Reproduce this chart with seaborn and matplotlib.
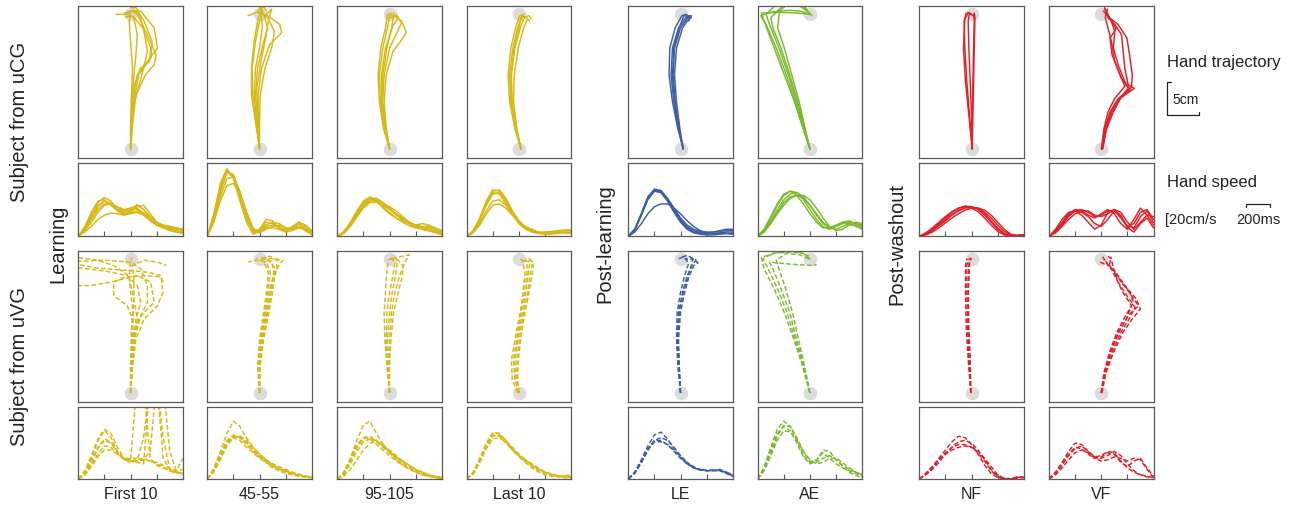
import numpy as np
import pandas as pd
import matplotlib
matplotlib.use("Agg")
import matplotlib.pyplot as plt
import seaborn as sns
from matplotlib.lines import Line2D

sns.set_theme(style="white")
plt.rcParams["font.family"] = ["Liberation Sans", "DejaVu Sans"]

# ---------------- labels / categories ----------------
conditions = ["First 10", "45-55", "95-105", "Last 10", "LE", "AE", "NF", "VF"]
phase_labels = ["Learning", "Post-learning", "Post-washout"]
subject_labels = ["Subject from uCG", "Subject from uVG"]
col_colors = ["#d6b916", "#d6b916", "#d6b916", "#d6b916",
              "#3d5da6", "#7bb92f", "#e2202a", "#e2202a"]

# start / target positions (cm)
start_pos = [0.0, 0.0]
target_pos = [0.0, 20.0]

# time grid for hand speed (ms)
speed_t = [0, 50, 100, 150, 200, 250, 300, 350, 400, 450, 500, 550, 600, 650, 700, 750, 800]

# ---------------- hand trajectories (cm), flat x,y pairs ----------------
traj_ucg_first10 = [
    [0,0, 0.1,3, 0.3,7, 1.0,11, 2.5,13, 4.0,15, 3.5,18, 1.5,20.5, 0,20.5, -0.5,20],
    [0,0, 0.2,3, 0.5,7, 1.2,11, 3.0,13.5, 3.2,16, 2.0,19, 0.8,21, 0,21],
    [0,0, 0.1,3, 0.2,7, 0.5,11, 0.8,14, 1.0,17, 0.5,19.5, -0.5,20, -2.2,20],
    [0,0, 0.3,4, 0.8,8, 2.2,11, 3.5,12.5, 3.8,14, 2.5,17, 1.0,20, 0.2,20.5],
    [0,0, 0,3, 0.1,7, 0.3,12, 0,16, -0.2,19, 0,20.3],
    [0,0, 0.2,3, 0.6,7, 1.8,11.5, 2.5,14.5, 2.0,17.5, 1.3,20, 0.5,20.6, -1.0,20.2],
    [0,0, 0.1,4, 0.4,9, 1.5,12, 2.8,13, 3.0,15, 1.8,18, 0.3,19.8, -0.8,19.6],
]
traj_ucg_45_55 = [
    [0,0, -0.5,4, -1.0,8, -1.1,12, -0.6,16, 0,19, 0.5,20.5, 0,21],
    [0,0, -0.3,4, -0.6,8, -0.3,12, 0.5,15.5, 1.2,18, 0.6,20, -0.3,20.5],
    [0,0, -0.2,4, -0.2,8, 0.3,12, 1.5,15.5, 3.3,17.3, 3.0,18.5, 1.2,19.8, -0.5,20.3, -1.7,19.8],
    [0,0, -0.4,4, -0.8,8, -0.6,12, 0,15, 0.4,18, 0.2,21, -0.2,20.6],
    [0,0, 0,4, 0.1,8, 0.8,12, 1.8,15, 2.2,17.5, 1.2,19.5, 0.3,20.3],
    [0,0, -0.6,4, -1.2,8, -1.2,12, -0.8,16, -0.2,19.5, 0.6,21.3, 1.0,20.5],
    [0,0, -0.3,5, -0.4,9, 0.2,13, 0.9,16.5, 1.4,19.5, 1.8,20.8, 1.0,20.0],
]
traj_ucg_95_105 = [
    [0,0, -0.8,3, -1.4,7, -1.5,11, -1.0,15, -0.3,18, 0,19.8],
    [0,0, -0.6,3, -1.1,7, -1.0,11, -0.4,15, 0.3,18, 0.6,19.7, 0.2,19.5],
    [0,0, -0.5,3, -0.8,7, -0.5,11, 0.5,14.5, 2.0,16.5, 2.5,17.3, 1.8,19, 0.8,19.8, 0,19.8],
    [0,0, -0.7,3, -1.2,7, -1.2,11, -0.6,15, 0.5,18.3, 1.3,19.5, 1.0,20.0],
    [0,0, -0.5,3, -1.0,7, -0.8,11, 0,15, 1.2,17.5, 1.8,18.8, 0.5,20.2],
    [0,0, -0.9,3, -1.5,7, -1.7,11, -1.3,15, -0.6,18, -0.3,20, 0.3,20.1],
]
traj_ucg_last10 = [
    [0.3,0, -0.5,3, -1.2,7, -1.4,11, -0.9,15, -0.2,18, 0.3,19.5, 1.5,19.8, 1.8,19.3],
    [0.3,0, -0.4,3, -1.0,7, -1.1,11, -0.6,15, 0.2,18, 0.8,19.6, 1.2,19.4],
    [0.3,0, -0.6,3, -1.4,7, -1.6,11, -1.2,15, -0.5,18, 0.1,19.8, 0.8,20.0],
    [0.3,0, -0.3,3, -0.8,7, -0.7,11, -0.1,15, 0.7,18, 1.3,19.3, 1.6,19.0],
    [0.3,0, -0.5,3, -1.1,7, -1.2,11, -0.7,15, 0,18, 0.4,19.8, 0.9,19.6],
]
traj_ucg_le = [
    [0.4,0, -0.3,3, -1.0,7, -1.4,11, -1.2,15, -0.3,18, 0.8,19.5, 1.6,19.8, 1.2,19.0],
    [0.4,0, -0.2,3, -0.8,7, -1.1,11, -0.9,15, 0,18, 1.0,19.4, 1.5,19.6],
    [0.4,0, -0.4,3, -1.2,7, -1.7,11, -1.6,15, -0.8,18, 0.2,19.8, 0.8,20.0, 1.6,19.5],
    [0.4,0, -0.1,3, -0.6,7, -0.9,11, -0.6,15, 0.3,18, 1.2,19.3, 1.4,19.8],
    [0.4,0, -0.3,3, -0.9,7, -1.2,11, -1.0,15, -0.2,18, 0.5,19.8, 1.3,19.7],
]
traj_ucg_ae = [
    [0,0, -1,3, -2.2,7, -3.5,11, -5.0,15, -6.5,18.5, -7.3,19.8, -5.5,20.4, -3,20.6, -1.5,20.5, 0,20],
    [0,0, -0.8,3, -1.8,7, -3.0,11, -4.3,15, -5.5,18, -5.8,19.5, -4,21.3, -2,22, -1,21.5, 0,20],
    [0,0, -0.9,3, -2.0,7, -3.2,11, -4.6,15, -6.0,18.5, -6.5,20.0, -5,21.5, -2.5,22, -0.5,20.5],
    [0,0, -0.7,3, -1.6,7, -2.7,11, -3.8,15, -4.8,18, -4.5,20.5, -3,21.8, -1,21.2, 0.3,19.8],
    [0,0, -1.0,3, -2.3,7, -3.8,11, -5.3,15, -6.8,19, -7.2,20.2, -4.5,20.3, -2,20.2, 0,20],
]
traj_ucg_nf = [
    [0.1,0, 0,5, -0.2,10, -0.4,15, -0.5,19, -0.3,20.2, 0,20],
    [0.1,0, -0.3,5, -0.7,10, -1.0,15, -1.1,19, -0.8,20.2],
    [0.1,0, 0.1,5, 0.2,10, 0.3,15, 0.4,19, 0.3,20],
    [0.1,0, -0.4,5, -0.9,10, -1.2,15, -1.0,19.3, -0.5,20.3, 0.2,19.8],
    [0.1,0, 0.2,5, 0.3,10, 0.4,15, 0.5,19.5, 0.4,20.2],
]
traj_ucg_vf = [
    [0.1,0, 0.6,3, 1.5,5.5, 2.8,7.5, 4.9,9.0, 4.0,9.5, 3.5,12, 3.2,15, 3.0,17, 2.0,18.5, 1.0,19.5, 0.5,21],
    [0.1,0, 0.5,3, 1.3,5.5, 2.5,7.5, 4.3,8.8, 3.5,10, 2.5,12.5, 1.8,15, 2.0,17.5, 1.5,19, 0.5,20.8],
    [0.2,0, 0.8,3, 1.8,5.5, 3.0,7.8, 4.5,9.2, 4.6,11, 4.2,14, 3.8,16.5, 2.5,18.5, 1.2,19.5, 0.8,20.5],
    [0,0, 0.4,3, 1.0,5.5, 2.0,7.5, 3.5,9.3, 2.6,11.5, 1.6,14, 1.3,16.5, 2.2,17.8, 1.5,19.2, 0.3,20.5],
    [0.2,0, 0.7,3, 1.6,5.5, 2.8,7.6, 4.0,9.0, 3.0,10.5, 2.0,13, 1.5,16, 1.0,18, 0.6,19.5, 0.9,20.8],
]

traj_uvg_first10 = [
    [0,0, 0.2,4, 0.4,8, 0.8,11, 1.5,13.5, 1.0,16, -0.5,17.5, -4,18.2, -8,18.7],
    [0,0, 0.3,4, 0.6,8, 1.5,11.5, 2.5,13.5, 2.5,16, 1.5,18.5, 0,19.5, -4,19.8, -8,19.6],
    [0,0, 0.1,4, 0.2,8, 0.3,11, -0.5,13, -2.5,14.5, -2.5,16.5, -1.0,17.2, 2.0,17.5, 4.5,17.3, 5.0,16.2],
    [0,0, 0.2,4, 0.5,8, 1.2,11, 2.5,12.5, 3.5,13.5, 3.0,16.5, 1.0,17.5, -3,16.5, -6,16.0, -8,16.0],
    [0,0, 0.1,4, 0.3,8, 0.4,12, 0.0,15, -0.2,17.5, 0,19.5, 0.2,20.2],
    [0,0, 0.3,4, 0.8,8, 2.0,11, 4.0,13.0, 4.8,15, 4.5,17.5, 2.5,18.0, -1,18.3, -5,18.6, -8,19.2],
    [0,0, 0.2,4, 0.5,8, 1.0,11, 0.5,14, -0.3,17.5, -2.5,19, -5,19.8, -8,20.2],
    [0,0, 0.0,4, 0.1,9, 0.5,14, 0.5,17, 0.3,19, 2.0,19.8, 4.0,19.5, 5.3,19.0],
]
traj_uvg_45_55 = [
    [0,0, -0.2,4, 0.2,8, 0.8,12, 1.3,15.5, 1.6,18, 1.0,19.5, -0.5,19.8, -1.7,19.5],
    [0,0, 0,4, 0.4,8, 1.1,12, 1.7,15.5, 2.1,18, 1.8,19.5, 0.5,20],
    [0,0, -0.1,4, 0.3,8, 0.9,12, 1.5,15.5, 2.3,18, 3.2,19.5, 3.5,19.8, 2.0,20.0, 0.3,20.2],
    [0,0, 0.1,4, 0.6,8, 1.4,12, 2.0,15.5, 2.3,18.5, 1.5,19.8, 0.2,20],
    [0,0, -0.3,4, 0.0,8, 0.6,12, 1.1,15.5, 1.3,18, 0.6,19.6, -0.5,20.1],
    [0,0, 0,4, 0.5,8, 1.2,12, 1.8,15.5, 2.5,18.3, 2.6,19.8, 1.5,20.4, 0.5,20.0],
]
traj_uvg_95_105 = [
    [0,0, -0.3,4, -0.5,8, -0.4,12, 0,15, 0.5,17.5, 0.8,19.5, 0.2,20],
    [0,0, -0.1,4, 0,8, 0.3,12, 0.8,15, 1.5,17.5, 2.3,19.5, 2.9,20.6, 1.5,20.3, 0,20],
    [0,0, -0.4,4, -0.7,8, -0.8,12, -0.6,15, -0.4,18, -0.2,19.8, 0.5,20.2],
    [0,0, 0,4, 0.2,8, 0.6,12, 1.3,15, 1.9,17.5, 2.0,19.0, 1.2,19.8, 0.3,19.9],
    [0,0, -0.2,4, -0.3,8, 0,12, 0.4,15, 0.9,17.5, 1.2,19.8, 0.5,20.5],
]
traj_uvg_last10 = [
    [0,0, -0.5,2, -0.6,5, 0,9, 0.5,12, 1.0,15, 1.4,18, 1.6,19.5, 0.5,19.8],
    [0,0, -0.2,2, -0.1,5, 0.4,9, 0.9,12, 1.5,15, 2.0,18, 2.2,19.5, 1.0,20],
    [-0.2,0, -1.0,2, -1.1,5, -0.4,9, 0.2,12, 0.6,15, 0.9,18, 0.5,19.8, 0,20],
    [0,0, -0.3,2, -0.3,5, 0.2,9, 0.7,12, 1.3,15, 1.7,18, 2.0,19.5, 1.4,20.1],
    [0,0, -0.6,2, -0.8,5, -0.2,9, 0.3,12, 0.8,15, 1.2,18, 1.2,19.6, 0.2,19.9],
]
traj_uvg_le = [
    [0,0, -0.3,4, -0.5,8, -0.3,12, 0.3,15, 1.0,17.5, 1.8,19.2, 2.3,19.8, 1.0,20.5, 0,20.2],
    [0,0, -0.2,4, -0.3,8, 0,12, 0.6,15, 1.3,17.5, 2.0,19, 2.6,19.4, 1.5,20.2],
    [0,0, -0.4,4, -0.6,8, -0.5,12, 0,15, 0.6,17.5, 1.2,19.3, 0.5,20.3, -0.3,20],
    [0,0, -0.2,4, -0.4,8, -0.2,12, 0.4,15, 1.1,17.5, 1.6,19.0, 1.8,19.9, 0.6,20.0],
]
traj_uvg_ae = [
    [0,0, -1.0,4, -2.2,8, -3.4,12, -4.8,15.5, -6.2,18.5, -7.0,20, -5.5,20.8, -3,21, -1,20.8, 0.2,19.8],
    [0,0, -0.9,4, -2.0,8, -3.0,12, -4.3,15.5, -5.5,18.5, -6.0,19.5, -3,19.2, 0,19.0, 1.0,19.1],
    [0,0, -1.1,4, -2.4,8, -3.8,12, -5.3,15.5, -6.8,18.5, -7.2,20.2, -5,20.9, -2,21.2, 0,20.3],
    [0,0, -0.8,4, -1.7,8, -2.6,12, -3.6,15.5, -4.6,18.5, -5.0,19.8, -3.5,20.8, -1.5,20.6, 0,19.9],
]
traj_uvg_nf = [
    [-0.1,0, -0.4,5, -0.6,10, -0.7,15, -0.7,19, -0.5,20],
    [-0.1,0, -0.2,5, -0.4,10, -0.5,15, -0.4,19, -0.2,20.2],
    [-0.1,0, -0.5,5, -0.8,10, -0.9,15, -0.9,19, -0.7,20.0],
    [-0.1,0, -0.3,5, -0.5,10, -0.5,15, -0.3,19.5, 0,20.1],
]
traj_uvg_vf = [
    [0,0, 0.5,3, 1.4,6, 2.6,9, 4.0,11.5, 5.5,13.0, 4.5,14.5, 3.0,16.5, 1.5,18.5, 0.5,19.8, 0.2,20.3],
    [0,0, 0.6,3, 1.6,6, 2.9,9, 4.3,11.3, 5.0,12.8, 3.8,14.5, 2.5,16.5, 1.8,18.5, 1.5,20, 1.0,20.4],
    [0,0, 0.4,3, 1.2,6, 2.3,9, 3.6,11.5, 4.8,13.5, 4.2,15, 2.8,17, 1.6,18.8, -0.2,19.5],
    [0.1,0, 0.7,3, 1.8,6, 3.2,9, 4.6,11.0, 5.8,12.5, 5.2,14, 3.5,16, 2.0,18, 0.8,19.4, 0.4,20],
    [0,0, 0.5,3, 1.3,6, 2.5,9, 3.8,11.2, 4.5,13, 3.2,15, 2.0,17.5, 1.2,19, 1.5,20.3],
]

# ---------------- hand speed (cm/s) on speed_t grid ----------------
speed_ucg_first10 = [
    [0, 12, 30, 48, 55, 50, 38, 32, 36, 45, 38, 25, 16, 12, 10, 8, 6],
    [0, 10, 26, 42, 50, 47, 40, 34, 38, 40, 33, 24, 18, 14, 12, 10, 9],
    [0, 8, 20, 34, 44, 46, 42, 38, 40, 38, 30, 22, 16, 12, 14, 12, 10],
    [0, 14, 34, 50, 52, 44, 36, 30, 34, 42, 44, 32, 20, 14, 10, 6, 4],
    [0, 6, 14, 24, 30, 33, 32, 30, 33, 36, 32, 24, 18, 15, 13, 12, 10],
    [0, 10, 24, 38, 46, 46, 40, 36, 40, 44, 38, 28, 20, 16, 14, 11, 8],
    [0, 12, 28, 44, 50, 46, 38, 32, 32, 34, 30, 24, 18, 12, 8, 6, 5],
]
speed_ucg_45_55 = [
    [0, 30, 70, 95, 85, 55, 25, 5, 8, 20, 18, 12, 10, 12, 18, 12, 4],
    [0, 25, 62, 90, 88, 62, 30, 8, 6, 14, 16, 14, 8, 10, 15, 10, 5],
    [0, 28, 66, 92, 84, 58, 28, 6, 10, 24, 22, 10, 6, 8, 12, 10, 3],
    [0, 20, 50, 72, 75, 60, 35, 12, 5, 10, 14, 16, 12, 10, 20, 15, 6],
    [0, 32, 75, 96, 82, 50, 20, 3, 6, 12, 12, 10, 8, 14, 20, 16, 8],
    [0, 22, 56, 82, 84, 64, 34, 10, 8, 16, 20, 18, 12, 10, 14, 8, 2],
]
speed_ucg_95_105 = [
    [0, 6, 18, 34, 48, 54, 50, 42, 34, 26, 20, 15, 12, 10, 8, 6, 3],
    [0, 5, 16, 30, 44, 52, 52, 46, 38, 30, 24, 20, 16, 14, 12, 10, 6],
    [0, 7, 20, 36, 50, 56, 50, 40, 32, 26, 22, 18, 16, 18, 16, 12, 8],
    [0, 4, 14, 28, 40, 48, 48, 44, 38, 32, 26, 20, 14, 10, 8, 5, 2],
    [0, 6, 18, 32, 46, 54, 54, 48, 40, 32, 24, 18, 12, 14, 14, 10, 4],
    [0, 5, 15, 28, 42, 50, 50, 46, 42, 36, 28, 20, 15, 12, 10, 8, 5],
]
speed_ucg_last10 = [
    [0, 8, 26, 50, 66, 64, 50, 32, 18, 10, 6, 5, 5, 5, 6, 6, 6],
    [0, 7, 22, 44, 60, 62, 50, 34, 22, 12, 8, 6, 5, 6, 7, 8, 8],
    [0, 6, 18, 36, 50, 52, 44, 32, 20, 12, 8, 5, 4, 4, 5, 5, 4],
    [0, 8, 24, 46, 62, 60, 46, 30, 20, 14, 10, 6, 3, 3, 4, 5, 5],
    [0, 5, 16, 32, 44, 46, 40, 30, 20, 12, 8, 6, 6, 7, 8, 9, 9],
    [0, 7, 24, 48, 64, 66, 54, 36, 22, 12, 6, 4, 3, 4, 6, 8, 9],
]
speed_ucg_le = [
    [0, 10, 32, 56, 66, 64, 52, 36, 22, 12, 6, 4, 5, 6, 7, 8, 8],
    [0, 10, 30, 54, 65, 63, 52, 38, 24, 14, 8, 5, 4, 4, 5, 6, 6],
    [0, 6, 18, 32, 42, 46, 46, 40, 32, 22, 14, 8, 5, 4, 4, 4, 3],
    [0, 10, 32, 55, 67, 65, 54, 40, 26, 16, 10, 7, 6, 6, 8, 10, 10],
    [0, 9, 30, 52, 64, 62, 50, 34, 20, 10, 5, 3, 2, 2, 3, 4, 4],
]
speed_ucg_ae = [
    [0, 10, 26, 44, 58, 64, 62, 52, 38, 24, 14, 10, 14, 20, 22, 18, 14],
    [0, 8, 22, 38, 52, 60, 62, 56, 44, 30, 18, 12, 14, 18, 20, 18, 16],
    [0, 6, 18, 32, 44, 54, 58, 58, 52, 40, 26, 14, 8, 10, 16, 16, 12],
    [0, 10, 28, 46, 60, 64, 58, 46, 32, 20, 12, 12, 16, 20, 18, 14, 10],
    [0, 7, 20, 34, 48, 56, 58, 54, 44, 32, 20, 12, 10, 14, 18, 20, 18],
]
speed_ucg_nf = [
    [0, 4, 10, 18, 26, 34, 40, 43, 42, 38, 30, 20, 10, 3, 0, 1, 2],
    [0, 3, 8, 15, 22, 30, 36, 40, 41, 40, 34, 26, 16, 7, 2, 1, 2],
    [0, 5, 12, 20, 28, 35, 40, 42, 40, 35, 26, 16, 7, 2, 1, 1, 2],
    [0, 2, 6, 12, 19, 26, 32, 37, 40, 40, 37, 30, 20, 10, 3, 1, 2],
    [0, 4, 9, 16, 24, 31, 37, 41, 42, 39, 32, 22, 12, 4, 1, 1, 2],
]
speed_ucg_vf = [
    [0, 8, 20, 32, 38, 36, 30, 26, 32, 38, 32, 18, 10, 24, 40, 30, 16],
    [0, 6, 16, 28, 36, 38, 34, 28, 30, 36, 36, 26, 14, 18, 34, 38, 24],
    [0, 10, 24, 34, 36, 30, 20, 10, 16, 34, 38, 28, 14, 12, 28, 36, 20],
    [0, 5, 14, 24, 32, 36, 36, 30, 28, 32, 38, 34, 20, 10, 20, 30, 28],
    [0, 7, 18, 30, 36, 34, 28, 18, 14, 24, 36, 30, 12, 6, 18, 26, 12],
]

speed_uvg_first10 = [
    [0, 10, 30, 55, 70, 60, 40, 28, 26, 28, 30, 26, 22, 18, 12, 8, 10],
    [0, 8, 24, 44, 56, 52, 38, 30, 28, 26, 60, 140, 140, 60, 14, 10, 8],
    [0, 6, 20, 36, 48, 46, 36, 28, 24, 26, 28, 40, 140, 140, 40, 12, 6],
    [0, 12, 34, 58, 72, 66, 46, 30, 26, 24, 22, 140, 140, 30, 14, 10, 14],
    [0, 6, 18, 32, 42, 42, 36, 30, 30, 30, 28, 26, 24, 20, 16, 12, 30],
    [0, 9, 26, 46, 58, 54, 40, 30, 28, 140, 140, 30, 20, 16, 12, 10, 8],
]
speed_uvg_45_55 = [
    [0, 16, 40, 66, 84, 76, 60, 46, 36, 28, 20, 14, 10, 7, 5, 3, 2],
    [0, 12, 32, 52, 62, 60, 52, 42, 34, 26, 20, 15, 11, 8, 6, 4, 3],
    [0, 14, 36, 56, 64, 60, 50, 40, 32, 26, 20, 16, 12, 8, 5, 3, 2],
    [0, 10, 28, 48, 60, 62, 56, 46, 36, 28, 22, 18, 14, 10, 7, 4, 3],
    [0, 14, 34, 54, 60, 56, 46, 38, 30, 24, 18, 14, 12, 9, 6, 4, 2],
    [0, 12, 30, 50, 62, 62, 54, 42, 32, 24, 16, 12, 8, 6, 4, 3, 2],
]
speed_uvg_95_105 = [
    [0, 8, 30, 56, 78, 84, 66, 50, 38, 28, 20, 14, 10, 6, 4, 2, 1],
    [0, 8, 26, 46, 60, 62, 56, 48, 40, 32, 24, 18, 12, 8, 5, 3, 2],
    [0, 6, 22, 40, 54, 58, 56, 48, 40, 32, 26, 20, 14, 10, 6, 4, 2],
    [0, 10, 30, 50, 60, 58, 50, 42, 34, 26, 20, 16, 12, 8, 5, 3, 2],
    [0, 4, 14, 28, 42, 52, 54, 50, 42, 34, 26, 20, 14, 10, 6, 4, 2],
    [0, 8, 26, 46, 58, 60, 54, 46, 38, 30, 22, 16, 10, 6, 4, 2, 1],
]
speed_uvg_last10 = [
    [0, 10, 30, 52, 68, 66, 54, 42, 32, 24, 18, 12, 8, 6, 4, 3, 4],
    [0, 8, 26, 46, 62, 64, 56, 44, 34, 26, 20, 14, 10, 7, 5, 4, 3],
    [0, 9, 28, 48, 64, 62, 52, 42, 34, 28, 22, 16, 10, 6, 4, 3, 2],
    [0, 7, 24, 44, 58, 60, 54, 46, 36, 28, 20, 14, 10, 7, 5, 5, 6],
    [0, 10, 28, 50, 66, 66, 56, 44, 34, 24, 16, 10, 6, 4, 3, 2, 2],
]
speed_uvg_le = [
    [0, 10, 28, 48, 64, 68, 58, 44, 32, 22, 16, 13, 12, 13, 12, 8, 4],
    [0, 8, 24, 42, 56, 60, 56, 46, 34, 24, 16, 13, 12, 12, 12, 10, 6],
    [0, 10, 26, 44, 56, 56, 50, 40, 30, 22, 16, 14, 13, 13, 13, 9, 4],
    [0, 9, 24, 42, 54, 54, 50, 42, 32, 24, 18, 14, 12, 12, 14, 10, 5],
]
speed_uvg_ae = [
    [0, 18, 46, 72, 84, 76, 56, 34, 24, 28, 38, 30, 22, 16, 12, 8, 4],
    [0, 14, 38, 62, 78, 76, 60, 40, 26, 24, 30, 34, 28, 20, 14, 10, 6],
    [0, 16, 42, 66, 76, 70, 52, 32, 22, 26, 42, 40, 28, 18, 10, 5, 2],
    [0, 12, 34, 56, 70, 68, 56, 40, 28, 22, 24, 30, 30, 24, 16, 10, 6],
]
speed_uvg_nf = [
    [0, 8, 18, 30, 42, 54, 62, 60, 50, 36, 20, 8, 2, 0, 0, 3, 2],
    [0, 6, 14, 24, 36, 46, 54, 56, 52, 42, 28, 14, 4, 0, 1, 3, 3],
    [0, 7, 16, 28, 38, 46, 50, 50, 46, 38, 26, 12, 3, 1, 0, 2, 3],
    [0, 8, 18, 28, 36, 42, 46, 48, 46, 40, 30, 18, 6, 1, 0, 1, 2],
]
speed_uvg_vf = [
    [0, 10, 24, 40, 52, 50, 40, 32, 34, 40, 38, 26, 16, 10, 6, 4, 2],
    [0, 8, 20, 34, 44, 48, 40, 32, 30, 34, 40, 34, 22, 12, 6, 3, 2],
    [0, 6, 16, 28, 38, 42, 38, 30, 26, 28, 32, 30, 26, 30, 28, 14, 2],
    [0, 9, 22, 36, 46, 44, 36, 30, 32, 38, 36, 24, 18, 26, 30, 16, 4],
]

traj_ucg = [traj_ucg_first10, traj_ucg_45_55, traj_ucg_95_105, traj_ucg_last10,
            traj_ucg_le, traj_ucg_ae, traj_ucg_nf, traj_ucg_vf]
traj_uvg = [traj_uvg_first10, traj_uvg_45_55, traj_uvg_95_105, traj_uvg_last10,
            traj_uvg_le, traj_uvg_ae, traj_uvg_nf, traj_uvg_vf]
speed_ucg = [speed_ucg_first10, speed_ucg_45_55, speed_ucg_95_105, speed_ucg_last10,
             speed_ucg_le, speed_ucg_ae, speed_ucg_nf, speed_ucg_vf]
speed_uvg = [speed_uvg_first10, speed_uvg_45_55, speed_uvg_95_105, speed_uvg_last10,
             speed_uvg_le, speed_uvg_ae, speed_uvg_nf, speed_uvg_vf]

# ---------------- layout (pixels) ----------------
W, H = 1304, 506
fig = plt.figure(figsize=(W / 100, H / 100), dpi=100)
fig.patch.set_facecolor("white")

col_left = [78.3, 207.3, 337.3, 466.7, 628.3, 757.7, 919.3, 1049.0]
col_w = 104.5
rows = [(7.3, 152.0), (164.0, 73.3), (251.7, 151.6), (408.3, 71.7)]  # (top, height)
frame_color = "#5a5a5a"


def make_ax(left, top, w, h):
    ax = fig.add_axes([left / W, (H - top - h) / H, w / W, h / H])
    for s in ax.spines.values():
        s.set_color(frame_color)
        s.set_linewidth(0.9)
        s.set_visible(True)
    ax.set_xlabel("")
    ax.set_ylabel("")
    return ax


def traj_frame(curves):
    recs = []
    for i, c in enumerate(curves):
        for k in range(0, len(c), 2):
            recs.append((i, k // 2, c[k], c[k + 1]))
    return pd.DataFrame(recs, columns=["curve", "order", "x", "y"])


def speed_frame(curves):
    recs = []
    for i, c in enumerate(curves):
        for t, v in zip(speed_t, c):
            recs.append((i, t, v))
    return pd.DataFrame(recs, columns=["curve", "t", "v"])


solid = "-"
dashed = (0, (3.2, 1.6))

for j in range(8):
    color = col_colors[j]
    for r, (tcurves, scurves, ls) in enumerate([(traj_ucg[j], speed_ucg[j], solid),
                                                  (traj_uvg[j], speed_uvg[j], dashed)]):
        # trajectory
        top, h = rows[2 * r]
        ax = make_ax(col_left[j], top, col_w, h)
        ax.scatter([start_pos[0], target_pos[0]], [start_pos[1], target_pos[1]],
                   s=95, color="#dcdcdc", linewidths=0, zorder=1)
        sns.lineplot(data=traj_frame(tcurves), x="x", y="y", units="curve",
                     estimator=None, sort=False, color=color, linewidth=1.05,
                     linestyle=ls, ax=ax, legend=False, zorder=2)
        ax.set_xlim(-7.75, 7.75)
        ax.set_ylim(-1.4, 21.2)
        ax.set_xticks([])
        ax.set_yticks([])
        ax.set_xlabel("")
        ax.set_ylabel("")
        # speed
        top, h = rows[2 * r + 1]
        ax = make_ax(col_left[j], top, col_w, h)
        sns.lineplot(data=speed_frame(scurves), x="t", y="v", units="curve",
                     estimator=None, sort=False, color=color, linewidth=1.05,
                     linestyle=ls, ax=ax, legend=False)
        ax.set_xlim(0, 800)
        ax.set_ylim(0, 104)
        ax.set_xticks([0, 200, 400, 600, 800])
        ax.set_yticks([])
        ax.tick_params(axis="x", direction="in", length=3.5, width=0.8,
                       color=frame_color, labelbottom=False, bottom=True)
        ax.set_xlabel("")
        ax.set_ylabel("")


def ftext(x, y, s, **kw):
    fig.text(x / W, 1 - y / H, s, **kw)


# condition labels
for j, name in enumerate(conditions):
    ftext(col_left[j] + col_w / 2, 495, name, ha="center", va="center", fontsize=11.5, color="#222222")

# row / phase labels
ftext(20, 122, subject_labels[0], rotation=90, ha="center", va="center", fontsize=14.5, color="#222222")
ftext(20, 366, subject_labels[1], rotation=90, ha="center", va="center", fontsize=14.5, color="#222222")
for x, s in zip([58, 605, 897], phase_labels):
    ftext(x, 244, s, rotation=90, ha="center", va="center", fontsize=14.5, color="#222222")

# right-hand legend / scale bars
ftext(1167, 63, "Hand trajectory", ha="left", va="center", fontsize=12, color="#222222")
ftext(1172, 100, "5cm", ha="left", va="center", fontsize=10, color="#222222")
ftext(1167, 183, "Hand speed", ha="left", va="center", fontsize=12, color="#222222")
ftext(1165, 220, "[20cm/s", ha="left", va="center", fontsize=10.5, color="#222222")
ftext(1258, 220, "200ms", ha="center", va="center", fontsize=10.5, color="#222222")


def fline(xs, ys):
    fig.add_artist(Line2D([x / W for x in xs], [1 - y / H for y in ys],
                          color="#222222", linewidth=0.9))


fline([1171, 1167, 1167, 1199, 1199], [83, 83, 116, 116, 113])
fline([1246, 1246, 1270, 1270], [208, 205, 205, 208])

fig.savefig("out.png", dpi=100, facecolor="white")
